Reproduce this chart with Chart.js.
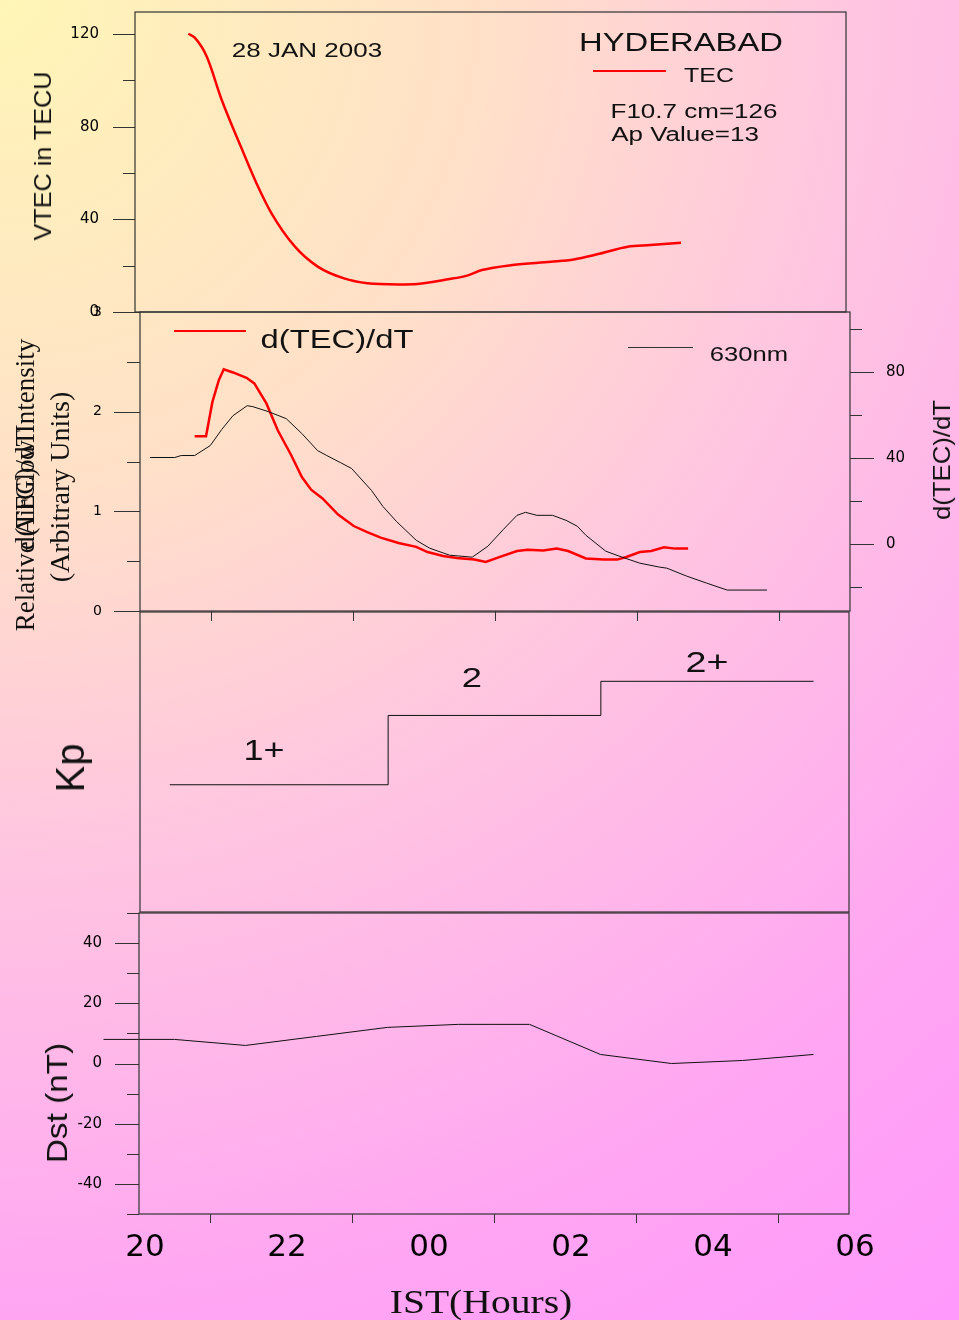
<!DOCTYPE html>
<html>
<head>
<meta charset="utf-8">
<script src="https://cdn.jsdelivr.net/npm/chart.js@4.4.0/dist/chart.umd.min.js"></script>
<style>
  html, body { margin: 0; padding: 0; }
  body {
    width: 959px; height: 1320px; position: relative; overflow: hidden;
    background: radial-gradient(circle farthest-corner at 0 0, #fff6b6 0%, #ffe0c8 30%, #ffc6e0 52%, #ffa6f2 80%, #ff99fc 100%);
  }
  canvas { position: absolute; left: 0; }
  .t { position: absolute; white-space: nowrap; line-height: 1; color: #111;
       font-family: "Liberation Sans", Arial, sans-serif; }
  .s { font-family: "Liberation Serif", "Times New Roman", serif; }
  .key { position: absolute; height: 0; }
</style>
</head>
<body>
<canvas id="tecChart" width="959" height="330" style="top:0"></canvas>
<canvas id="glowChart" width="959" height="330" style="top:300px"></canvas>
<canvas id="kpChart" width="959" height="320" style="top:600px"></canvas>
<canvas id="dstChart" width="959" height="420" style="top:900px"></canvas>

<!-- panel 1 -->
<div class="t" style="left:307px;top:50px;font-size:20px;transform:translate(-50%,-50%) scaleX(1.3)">28 JAN 2003</div>
<div class="t" style="left:681px;top:42px;font-size:25px;transform:translate(-50%,-50%) scaleX(1.31)">HYDERABAD</div>
<div class="key" style="left:593px;top:70px;width:73px;border-top:2.5px solid #ff0000"></div>
<div class="t" style="left:709px;top:73.5px;font-size:21px;transform:translate(-50%,-50%) scaleX(1.19)">TEC</div>
<div class="t" style="left:694px;top:111px;font-size:20px;transform:translate(-50%,-50%) scaleX(1.3)">F10.7 cm=126</div>
<div class="t" style="left:685px;top:134px;font-size:20px;transform:translate(-50%,-50%) scaleX(1.3)">Ap Value=13</div>
<div class="t" style="left:43px;top:156px;font-size:24px;transform:translate(-50%,-50%) rotate(-90deg) scaleX(1.05)">VTEC in TECU</div>

<!-- panel 2 -->
<div class="key" style="left:174px;top:330px;width:72px;border-top:2.5px solid #ff0000"></div>
<div class="t" style="left:337px;top:339px;font-size:26px;transform:translate(-50%,-50%) scaleX(1.26)">d(TEC)/dT</div>
<div class="key" style="left:628px;top:346.5px;width:65px;border-top:1px solid #333"></div>
<div class="t" style="left:749px;top:352.5px;font-size:21px;transform:translate(-50%,-50%) scaleX(1.22)">630nm</div>
<div class="t s" style="left:25px;top:485px;font-size:27px;transform:translate(-50%,-50%) rotate(-90deg)">Relative AirGlow Intensity</div>
<div class="t s" style="left:25px;top:490px;font-size:27px;transform:translate(-50%,-50%) rotate(-90deg)">d(TEC)/dT</div>
<div class="t s" style="left:60px;top:487px;font-size:28px;transform:translate(-50%,-50%) rotate(-90deg)">(Arbitrary Units)</div>
<div class="t" style="left:942px;top:460px;font-size:24px;transform:translate(-50%,-50%) rotate(-90deg) scaleX(1.07)">d(TEC)/dT</div>

<!-- panel 3 -->
<div class="t" style="left:264px;top:750px;font-size:29px;transform:translate(-50%,-50%) scaleX(1.24)">1+</div>
<div class="t" style="left:472px;top:678px;font-size:28px;transform:translate(-50%,-50%) scaleX(1.3)">2</div>
<div class="t" style="left:707px;top:662px;font-size:29px;transform:translate(-50%,-50%) scaleX(1.3)">2+</div>
<div class="t" style="left:70px;top:768px;font-size:40px;transform:translate(-50%,-50%) rotate(-90deg)">Kp</div>

<!-- panel 4 -->
<div class="t" style="left:57px;top:1103px;font-size:30px;transform:translate(-50%,-50%) rotate(-90deg) scaleX(1.11)">Dst (nT)</div>
<div class="t s" style="left:481px;top:1302px;font-size:33px;transform:translate(-50%,-50%) scaleX(1.2)">IST(Hours)</div>

<script>
// hours run 20 .. 30 (30 = 06 IST next day)
const tecHours = [20.75, 20.84, 21.01, 21.22, 21.49, 21.71, 21.92, 22.25, 22.57, 22.94, 23.27, 23.70,
                  23.97, 24.40, 24.67, 24.88, 25.31, 25.85, 26.17, 26.50, 26.93, 27.25, 27.68];
const tecValues = [120.1, 118.4, 110.2, 91.5, 71.3, 55.5, 42.6, 28.2, 19.6, 14.5, 12.4, 11.9,
                   12.1, 14.1, 15.7, 18.1, 20.3, 21.7, 22.7, 24.9, 28.2, 28.9, 29.9];

const glowHours = [20.14, 20.49, 20.58, 20.77, 20.99, 21.15, 21.31, 21.51, 21.59, 21.81, 22.06, 22.28,
                   22.50, 22.63, 22.82, 22.98, 23.26, 23.42, 23.61, 23.89, 24.08, 24.36, 24.68, 24.90,
                   25.12, 25.31, 25.43, 25.59, 25.81, 26.00, 26.16, 26.28, 26.56, 26.79, 27.04, 27.32,
                   27.42, 27.70, 27.98, 28.27, 28.83];
const glowValues = [1.54, 1.54, 1.56, 1.56, 1.66, 1.82, 1.96, 2.06, 2.05, 2.00, 1.93, 1.78,
                    1.61, 1.56, 1.49, 1.43, 1.21, 1.05, 0.90, 0.71, 0.63, 0.56, 0.54, 0.65,
                    0.82, 0.96, 0.99, 0.96, 0.96, 0.91, 0.85, 0.76, 0.60, 0.54, 0.48, 0.44,
                    0.43, 0.35, 0.28, 0.21, 0.21];

const dtecHours = [20.77, 20.93, 21.02, 21.11, 21.18, 21.31, 21.50, 21.61, 21.78, 21.94, 22.13, 22.28,
                   22.41, 22.57, 22.79, 23.01, 23.20, 23.39, 23.64, 23.89, 24.05, 24.27, 24.46, 24.71,
                   24.87, 25.09, 25.31, 25.46, 25.68, 25.87, 26.03, 26.28, 26.53, 26.72, 26.85, 27.04,
                   27.20, 27.38, 27.54, 27.72];
const dtecValues = [50.2, 50.2, 66.2, 76.3, 81.4, 79.9, 77.4, 74.8, 65.5, 53.0, 41.4, 31.3,
                    25.4, 21.3, 13.8, 8.5, 5.7, 3.1, 0.6, -1.2, -3.6, -5.4, -6.4, -7.1,
                    -8.2, -5.6, -3.1, -2.5, -2.9, -2.0, -3.1, -6.6, -7.1, -7.1, -5.9, -3.6,
                    -3.1, -1.4, -2.0, -2.0];

const kpHours = [20.42, 23.5, 26.5, 29.5];
const kpValues = [1.33, 2, 2.33, 2.33];   // 1+, 2, 2+

const dstHours = [19.5, 20.5, 21.5, 22.5, 23.5, 24.5, 25.5, 26.5, 27.5, 28.5, 29.5];
const dstValues = [8, 8, 6, 9, 12, 13, 13, 3, 0, 1, 3];

// tick values
const hourTicks = [20, 21, 22, 23, 24, 25, 26, 27, 28, 29, 30];
const tecTicks = [0, 20, 40, 60, 80, 100, 120];
const glowTicks = [0, 0.5, 1, 1.5, 2, 2.5, 3];
const dtecTicks = [-20, 0, 20, 40, 60, 80, 100];
const dstTicks = [-50, -40, -30, -20, -10, 0, 10, 20, 30, 40, 50];

function pts(xs, ys) {
  return xs.map((x, i) => ({ x: x, y: ys[i] }));
}

const INK = '#333';
const NONE = 'rgba(0,0,0,0)';

Chart.defaults.font.family = "'DejaVu Sans', sans-serif";
Chart.defaults.color = '#000';
Chart.defaults.animation = false;
Chart.defaults.plugins.legend.display = false;
Chart.defaults.plugins.tooltip.enabled = false;

// box round the plot area + long/short y ticks
const frameTicks = {
  id: 'frameTicks',
  afterDraw(chart, args, opts) {
    const ctx = chart.ctx, a = chart.chartArea;
    ctx.save();
    ctx.strokeStyle = INK;
    ctx.lineWidth = 1.2;
    ctx.strokeRect(a.left, a.top, a.right - a.left, a.bottom - a.top);
    ctx.lineWidth = 1;
    (opts.ticks || []).forEach(([id, major, minor]) => {
      const s = chart.scales[id];
      s.ticks.forEach(t => {
        const len = t.label !== '' ? major : minor;
        const y = Math.round(s.getPixelForValue(t.value)) + 0.5;
        const x0 = s.position === 'left' ? s.right : s.left;
        const x1 = s.position === 'left' ? x0 - len : x0 + len;
        ctx.beginPath();
        ctx.moveTo(x0, y);
        ctx.lineTo(x1, y);
        ctx.stroke();
      });
    });
    ctx.restore();
  }
};
Chart.register(frameTicks);

function yAxis(opts) {
  return {
    position: opts.position || 'left',
    min: opts.min, max: opts.max,
    afterBuildTicks: s => { s.ticks = opts.ticks.map(v => ({ value: v })); },
    afterFit: s => { s.width = opts.width; },
    border: { display: false },
    grid: { drawOnChartArea: false, tickLength: opts.gap, tickColor: NONE },
    ticks: { padding: 0, font: { size: opts.size }, callback: opts.label }
  };
}

function xAxis(extra) {
  return Object.assign({
    type: 'linear', min: 20, max: 30,
    afterBuildTicks: s => { s.ticks = hourTicks.map(v => ({ value: v })); }
  }, extra);
}

// panel 1: VTEC
new Chart(document.getElementById('tecChart'), {
  type: 'line',
  data: { datasets: [{
    data: pts(tecHours, tecValues),
    borderColor: '#ff0000', borderWidth: 2.5, pointRadius: 0,
    cubicInterpolationMode: 'monotone'
  }] },
  options: {
    responsive: false,
    layout: { padding: { top: 12, bottom: 18, left: 0, right: 113 } },
    scales: {
      x: xAxis({ display: false }),
      y: yAxis({ min: 0, max: 129.5, ticks: tecTicks, width: 135, gap: 36, size: 15,
                 label: v => v % 40 === 0 ? String(v) : '' })
    },
    plugins: { frameTicks: { ticks: [['y', 22, 12]] } }
  }
});

// panel 2: airglow and d(TEC)/dT
new Chart(document.getElementById('glowChart'), {
  type: 'line',
  data: { datasets: [
    { data: pts(glowHours, glowValues), yAxisID: 'y',
      borderColor: '#111', borderWidth: 1, pointRadius: 0 },
    { data: pts(dtecHours, dtecValues), yAxisID: 'y1',
      borderColor: '#ff0000', borderWidth: 2.5, pointRadius: 0 }
  ] },
  options: {
    responsive: false,
    layout: { padding: { top: 12, bottom: 0, left: 0, right: 0 } },
    scales: {
      x: xAxis({
        afterFit: s => { s.height = 19; },
        border: { display: false },
        grid: { drawOnChartArea: false, tickLength: 10,
                tickColor: c => (c.tick && c.tick.value % 2 === 1) ? INK : NONE },
        ticks: { display: false, autoSkip: false }
      }),
      y: yAxis({ min: 0, max: 3, ticks: glowTicks, width: 140, gap: 38, size: 14,
                 label: v => Number.isInteger(v) ? String(v) : '' }),
      y1: yAxis({ position: 'right', min: -31, max: 108, ticks: dtecTicks, width: 109, gap: 36,
                  size: 15, label: v => v % 40 === 0 ? String(v) : '' })
    },
    plugins: { frameTicks: { ticks: [['y', 26, 13], ['y1', 24, 12]] } }
  }
});

// panel 3: Kp
new Chart(document.getElementById('kpChart'), {
  type: 'line',
  data: { datasets: [{
    data: pts(kpHours, kpValues), stepped: 'before',
    borderColor: '#111', borderWidth: 1, pointRadius: 0
  }] },
  options: {
    responsive: false,
    layout: { padding: { top: 12, bottom: 8, left: 140, right: 110 } },
    scales: {
      x: xAxis({ display: false }),
      y: { display: false, min: 0.1, max: 3.0 }
    }
  }
});

// panel 4: Dst
new Chart(document.getElementById('dstChart'), {
  type: 'line',
  data: { datasets: [{
    data: pts(dstHours, dstValues), clip: false,
    borderColor: '#111', borderWidth: 1, pointRadius: 0
  }] },
  options: {
    responsive: false,
    layout: { padding: { top: 13, bottom: 0, left: 0, right: 110 } },
    scales: {
      x: xAxis({
        afterFit: s => { s.height = 106; },
        border: { display: false },
        grid: { drawOnChartArea: false, tickLength: 9,
                tickColor: c => (c.tick && c.tick.value % 2 === 1) ? INK : NONE },
        ticks: {
          autoSkip: false, maxRotation: 0, padding: 6, labelOffset: 6,
          font: { size: 31 },
          callback: v => v % 2 === 0 ? String(v % 24).padStart(2, '0') : ''
        }
      }),
      y: yAxis({ min: -50, max: 50, ticks: dstTicks, width: 139, gap: 37, size: 15,
                 label: v => v % 20 === 0 ? String(v) : '' })
    },
    plugins: { frameTicks: { ticks: [['y', 24, 12]] } }
  }
});
</script>
</body>
</html>
